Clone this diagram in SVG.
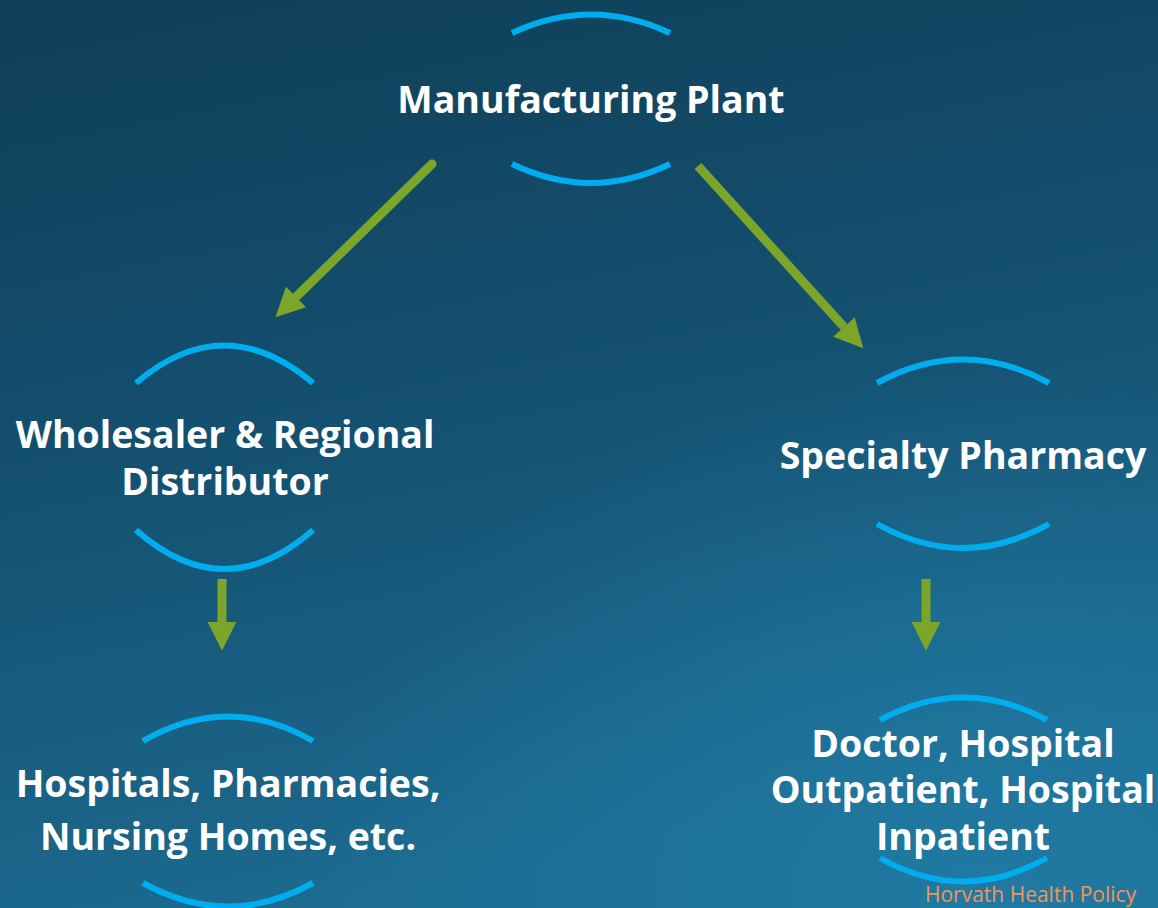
<svg xmlns="http://www.w3.org/2000/svg" width="1158" height="908" viewBox="0 0 1158 908">
<defs>
<linearGradient id="bg" x1="0" y1="0" x2="0.25" y2="1">
<stop offset="0" stop-color="#0f3f57"/>
<stop offset="0.5" stop-color="#145070"/>
<stop offset="1" stop-color="#1c6a8f"/>
</linearGradient>
<radialGradient id="glow" cx="0.85" cy="1" r="0.6">
<stop offset="0" stop-color="#2281ab" stop-opacity="0.7"/>
<stop offset="1" stop-color="#2281ab" stop-opacity="0"/>
</radialGradient>
<marker id="ah" viewBox="0 0 10 10" refX="0" refY="5" markerWidth="3.2" markerHeight="3.2" markerUnits="strokeWidth" orient="auto" overflow="visible">
<path d="M0,0 L10,5 L0,10 Z" fill="#7ca52a"/>
</marker>
<style>
.arc{fill:none;stroke:#00aeef;stroke-width:6}
.lbl{font-family:"Open Sans","Noto Sans",sans-serif;font-weight:bold;font-size:37.5px;fill:#ffffff;text-anchor:middle}
.con{stroke:#7ca52a;stroke-width:9;fill:none;marker-end:url(#ah)}
</style>
</defs>
<rect width="1158" height="908" fill="url(#bg)"/>
<rect width="1158" height="908" fill="url(#glow)"/>
<g id="connectors">
<path class="con" d="M432,164 L296,297" stroke-linecap="round"/>
<path class="con" d="M698,166 L844,327"/>
<path class="con" d="M222,579 L222,622"/>
<path class="con" d="M926,579 L926,622"/>
</g>
<g id="manufacturing">
<path class="arc" d="M512,33 Q591,-4 670,33"/>
<path class="arc" d="M512,164 Q591,202 670,164"/>
<text class="lbl" x="591" y="113">Manufacturing Plant</text>
</g>
<g id="wholesaler">
<path class="arc" d="M136,383 Q224,308 313,383"/>
<path class="arc" d="M136,530 Q224,608 313,530"/>
<text class="lbl" x="225" y="448">Wholesaler &amp; Regional</text>
<text class="lbl" x="225" y="495">Distributor</text>
</g>
<g id="specialty">
<path class="arc" d="M877,383 Q963,336 1049,383"/>
<path class="arc" d="M877,524 Q963,572 1049,524"/>
<text class="lbl" x="963" y="469">Specialty Pharmacy</text>
</g>
<g id="hospitals">
<path class="arc" d="M143,741 Q228,692 313,741"/>
<path class="arc" d="M143,883 Q228,930 313,883"/>
<text class="lbl" x="228" y="797">Hospitals, Pharmacies,</text>
<text class="lbl" x="228" y="850">Nursing Homes, etc.</text>
</g>
<g id="doctor">
<path class="arc" d="M880,720 Q963,675 1047,720"/>
<path class="arc" d="M880,858 Q963,905 1047,858"/>
<text class="lbl" x="963" y="757">Doctor, Hospital</text>
<text class="lbl" x="963" y="803">Outpatient, Hospital</text>
<text class="lbl" x="963" y="850">Inpatient</text>
</g>
<text x="925" y="902" font-family="'Open Sans','Noto Sans',sans-serif" font-size="21" fill="#f0955a">Horvath Health Policy</text>
</svg>
